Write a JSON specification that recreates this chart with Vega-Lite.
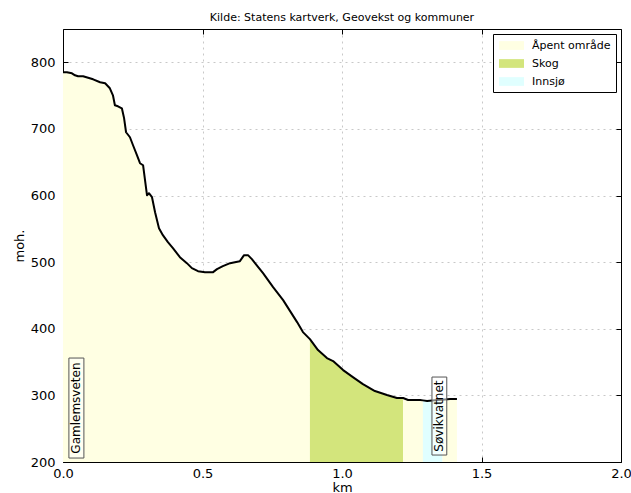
{
  "$schema": "https://vega.github.io/schema/vega-lite/v6.json",
  "autosize": {"type": "none"},
  "padding": {"left": 63, "top": 29, "right": 10, "bottom": 31},
  "width": 558,
  "height": 433,
  "background": "white",
  "config": {
    "font": "DejaVu Sans",
    "view": {"stroke": null},
    "axis": {
      "labelFont": "DejaVu Sans",
      "titleFont": "DejaVu Sans",
      "labelFontSize": 13,
      "titleFontSize": 13,
      "titleFontWeight": "normal",
      "labelColor": "black",
      "titleColor": "black",
      "domain": true,
      "domainColor": "black",
      "domainWidth": 1,
      "tickColor": "black",
      "tickSize": -5,
      "gridColor": "#c8c8c8",
      "gridDash": [2, 4],
      "gridWidth": 1
    }
  },
  "title": {
    "text": "Kilde: Statens kartverk, Geovekst og kommuner",
    "fontSize": 11,
    "fontWeight": "normal",
    "font": "DejaVu Sans",
    "color": "black",
    "offset": 6
  },
  "resolve": {"axis": {"x": "independent", "y": "independent"}},
  "datasets": {
    "profile": [
      {"km": 0.000, "moh": 785, "cover": "Åpent område", "seg": 1},
      {"km": 0.014, "moh": 785, "cover": "Åpent område", "seg": 1},
      {"km": 0.032, "moh": 783.5, "cover": "Åpent område", "seg": 1},
      {"km": 0.043, "moh": 780.5, "cover": "Åpent område", "seg": 1},
      {"km": 0.054, "moh": 779, "cover": "Åpent område", "seg": 1},
      {"km": 0.072, "moh": 779, "cover": "Åpent område", "seg": 1},
      {"km": 0.108, "moh": 774.5, "cover": "Åpent område", "seg": 1},
      {"km": 0.133, "moh": 770, "cover": "Åpent område", "seg": 1},
      {"km": 0.151, "moh": 768.5, "cover": "Åpent område", "seg": 1},
      {"km": 0.168, "moh": 761, "cover": "Åpent område", "seg": 1},
      {"km": 0.179, "moh": 750.5, "cover": "Åpent område", "seg": 1},
      {"km": 0.186, "moh": 735.5, "cover": "Åpent område", "seg": 1},
      {"km": 0.197, "moh": 734, "cover": "Åpent område", "seg": 1},
      {"km": 0.211, "moh": 731, "cover": "Åpent område", "seg": 1},
      {"km": 0.219, "moh": 716, "cover": "Åpent område", "seg": 1},
      {"km": 0.226, "moh": 695, "cover": "Åpent område", "seg": 1},
      {"km": 0.240, "moh": 687.5, "cover": "Åpent område", "seg": 1},
      {"km": 0.251, "moh": 675.5, "cover": "Åpent område", "seg": 1},
      {"km": 0.265, "moh": 660.5, "cover": "Åpent område", "seg": 1},
      {"km": 0.276, "moh": 648.5, "cover": "Åpent område", "seg": 1},
      {"km": 0.287, "moh": 645.5, "cover": "Åpent område", "seg": 1},
      {"km": 0.294, "moh": 623, "cover": "Åpent område", "seg": 1},
      {"km": 0.301, "moh": 600.5, "cover": "Åpent område", "seg": 1},
      {"km": 0.308, "moh": 603.5, "cover": "Åpent område", "seg": 1},
      {"km": 0.319, "moh": 597.5, "cover": "Åpent område", "seg": 1},
      {"km": 0.330, "moh": 575, "cover": "Åpent område", "seg": 1},
      {"km": 0.344, "moh": 551, "cover": "Åpent område", "seg": 1},
      {"km": 0.358, "moh": 540.5, "cover": "Åpent område", "seg": 1},
      {"km": 0.376, "moh": 530, "cover": "Åpent område", "seg": 1},
      {"km": 0.394, "moh": 521, "cover": "Åpent område", "seg": 1},
      {"km": 0.419, "moh": 507.5, "cover": "Åpent område", "seg": 1},
      {"km": 0.444, "moh": 498.5, "cover": "Åpent område", "seg": 1},
      {"km": 0.462, "moh": 491, "cover": "Åpent område", "seg": 1},
      {"km": 0.484, "moh": 486.5, "cover": "Åpent område", "seg": 1},
      {"km": 0.509, "moh": 485, "cover": "Åpent område", "seg": 1},
      {"km": 0.538, "moh": 485, "cover": "Åpent område", "seg": 1},
      {"km": 0.552, "moh": 489.5, "cover": "Åpent område", "seg": 1},
      {"km": 0.573, "moh": 494, "cover": "Åpent område", "seg": 1},
      {"km": 0.599, "moh": 498.5, "cover": "Åpent område", "seg": 1},
      {"km": 0.616, "moh": 500, "cover": "Åpent område", "seg": 1},
      {"km": 0.634, "moh": 501.5, "cover": "Åpent område", "seg": 1},
      {"km": 0.649, "moh": 510.5, "cover": "Åpent område", "seg": 1},
      {"km": 0.663, "moh": 510.5, "cover": "Åpent område", "seg": 1},
      {"km": 0.677, "moh": 504.5, "cover": "Åpent område", "seg": 1},
      {"km": 0.717, "moh": 483.5, "cover": "Åpent område", "seg": 1},
      {"km": 0.753, "moh": 462.5, "cover": "Åpent område", "seg": 1},
      {"km": 0.789, "moh": 443, "cover": "Åpent område", "seg": 1},
      {"km": 0.814, "moh": 426.5, "cover": "Åpent område", "seg": 1},
      {"km": 0.839, "moh": 410, "cover": "Åpent område", "seg": 1},
      {"km": 0.860, "moh": 395, "cover": "Åpent område", "seg": 1},
      {"km": 0.885, "moh": 384.5, "cover": "Åpent område", "seg": 1},
      {"km": 0.885, "moh": 384.5, "cover": "Skog", "seg": 2},
      {"km": 0.914, "moh": 368, "cover": "Skog", "seg": 2},
      {"km": 0.946, "moh": 356, "cover": "Skog", "seg": 2},
      {"km": 0.968, "moh": 351.5, "cover": "Skog", "seg": 2},
      {"km": 1.004, "moh": 338, "cover": "Skog", "seg": 2},
      {"km": 1.039, "moh": 327.5, "cover": "Skog", "seg": 2},
      {"km": 1.075, "moh": 317, "cover": "Skog", "seg": 2},
      {"km": 1.118, "moh": 306.5, "cover": "Skog", "seg": 2},
      {"km": 1.161, "moh": 300.5, "cover": "Skog", "seg": 2},
      {"km": 1.197, "moh": 296, "cover": "Skog", "seg": 2},
      {"km": 1.219, "moh": 296, "cover": "Skog", "seg": 2},
      {"km": 1.219, "moh": 296, "cover": "Åpent område", "seg": 3},
      {"km": 1.237, "moh": 293, "cover": "Åpent område", "seg": 3},
      {"km": 1.280, "moh": 293, "cover": "Åpent område", "seg": 3},
      {"km": 1.290, "moh": 292.5, "cover": "Åpent område", "seg": 3},
      {"km": 1.290, "moh": 292.5, "cover": "Innsjø", "seg": 4},
      {"km": 1.305, "moh": 291.5, "cover": "Innsjø", "seg": 4},
      {"km": 1.341, "moh": 293, "cover": "Innsjø", "seg": 4},
      {"km": 1.360, "moh": 293.5, "cover": "Innsjø", "seg": 4},
      {"km": 1.360, "moh": 293.5, "cover": "Åpent område", "seg": 5},
      {"km": 1.387, "moh": 294.5, "cover": "Åpent område", "seg": 5},
      {"km": 1.412, "moh": 294.5, "cover": "Åpent område", "seg": 5}
    ],
    "labels": [
      {"km": 0.048, "moh": 281, "name": "Gamlemsveten"},
      {"km": 1.349, "moh": 269, "name": "Søvikvatnet"}
    ]
  },
  "layer": [
    {
      "data": {"name": "profile"},
      "mark": {"type": "area", "interpolate": "linear"},
      "encoding": {
        "x": {
          "field": "km", "type": "quantitative",
          "scale": {"domain": [0, 2], "nice": false, "zero": false},
          "axis": {"values": [0, 0.5, 1, 1.5, 2], "format": ".1f", "title": "km", "labelPadding": 10, "titlePadding": 1, "labelFlush": false}
        },
        "y": {
          "field": "moh", "type": "quantitative", "stack": null,
          "scale": {"domain": [200, 850], "nice": false, "zero": false},
          "axis": {"values": [200, 300, 400, 500, 600, 700, 800], "title": "moh.", "labelPadding": 13, "titlePadding": 4, "labelFlush": false}
        },
        "y2": {"datum": 200},
        "color": {
          "field": "cover", "type": "nominal",
          "scale": {"domain": ["Åpent område", "Skog", "Innsjø"], "range": ["#ffffe3", "#d3e57c", "#e0ffff"]},
          "legend": {
            "title": null,
            "orient": "top-right",
            "offset": 5,
            "fillColor": "white",
            "strokeColor": "black",
            "padding": 5,
            "cornerRadius": 0,
            "labelFontSize": 11,
            "labelFont": "DejaVu Sans",
            "labelColor": "black",
            "symbolType": "M-2,-0.7H2V0.7H-2Z",
            "symbolSize": 156,
            "symbolStrokeWidth": 0,
            "symbolOpacity": 1,
            "symbolOffset": 7,
            "rowPadding": 6,
            "labelOffset": 14
          }
        },
        "detail": {"field": "seg", "type": "nominal"}
      }
    },
    {
      "data": {"name": "profile"},
      "mark": {"type": "line", "color": "black", "strokeWidth": 2, "strokeJoin": "round"},
      "encoding": {
        "x": {"field": "km", "type": "quantitative", "axis": null},
        "y": {"field": "moh", "type": "quantitative", "axis": null}
      }
    },
    {
      "data": {"name": "labels"},
      "transform": [{"filter": "datum.name === 'Gamlemsveten'"}],
      "mark": {"type": "point", "shape": "M-0.15,-1H0.15V1H-0.15Z", "size": 10000, "filled": true, "fill": "white", "fillOpacity": 0.5, "stroke": "#555555", "strokeWidth": 1, "opacity": 1},
      "encoding": {
        "x": {"field": "km", "type": "quantitative", "axis": null},
        "y": {"field": "moh", "type": "quantitative", "axis": null}
      }
    },
    {
      "data": {"name": "labels"},
      "transform": [{"filter": "datum.name === 'Søvikvatnet'"}],
      "mark": {"type": "point", "shape": "M-0.19,-1H0.19V1H-0.19Z", "size": 6084, "filled": true, "fill": "white", "fillOpacity": 0.5, "stroke": "#555555", "strokeWidth": 1, "opacity": 1},
      "encoding": {
        "x": {"field": "km", "type": "quantitative", "axis": null},
        "y": {"field": "moh", "type": "quantitative", "axis": null}
      }
    },
    {
      "data": {"name": "labels"},
      "mark": {"type": "text", "angle": 270, "align": "center", "baseline": "middle", "font": "DejaVu Sans", "fontSize": 12, "color": "black"},
      "encoding": {
        "x": {"field": "km", "type": "quantitative", "axis": null},
        "y": {"field": "moh", "type": "quantitative", "axis": null},
        "text": {"field": "name"}
      }
    },
    {
      "data": {"name": "labels"},
      "mark": {"type": "point", "opacity": 0},
      "encoding": {
        "x": {"field": "km", "type": "quantitative", "axis": {"orient": "top", "values": [0, 0.5, 1, 1.5, 2], "labels": false, "title": null, "grid": false}},
        "y": {"field": "moh", "type": "quantitative", "axis": {"orient": "right", "values": [200, 300, 400, 500, 600, 700, 800], "labels": false, "title": null, "grid": false}}
      }
    }
  ]
}
